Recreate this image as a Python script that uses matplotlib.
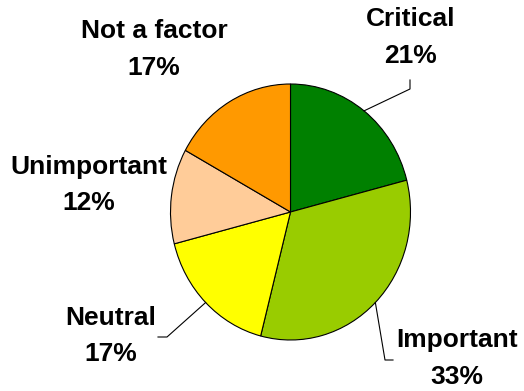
import matplotlib.pyplot as plt
import numpy as np

labels = ['Critical', 'Important', 'Neutral', 'Unimportant', 'Not a factor']
shares = [21, 33, 17, 12, 17]
colors = ['#008000', '#99CC00', '#FFFF00', '#FFCC99', '#FF9900']

W, H = 524, 391
cx, cy = 290.5, 212.0   # pie centre, pixels from top-left
rx, ry = 120.0, 128.0   # pie is slightly taller than wide


def to_data(x, y):
    return (x - cx) / rx, (cy - y) / ry


fig = plt.figure(figsize=(W / 100, H / 100), dpi=100)
ax = fig.add_axes([0, 0, 1, 1])
wedges, _ = ax.pie(shares, colors=colors, startangle=90, counterclock=False,
                   wedgeprops=dict(edgecolor='black', linewidth=0.8))
ax.set_aspect('auto')
ax.set_xlim(-cx / rx, (W - cx) / rx)
ax.set_ylim(-(H - cy) / ry, cy / ry)
ax.axis('off')

# label centres (name line, percent line) and optional leader elbows
label_pos = {
    'Critical': (411, 19, 56),
    'Important': (457, 340, 377),
    'Neutral': (111, 318, 354),
    'Unimportant': (89, 167, 203),
    'Not a factor': (154, 31, 68),
}
leaders = {
    'Critical': [(410, 89), (410, 80)],
    'Important': [(385, 360), (393, 360)],
    'Neutral': [(167, 337), (158, 337)],
}

font = dict(family='Liberation Sans', weight='bold', size=19,
            ha='center', va='center')

for w, name, val in zip(wedges, labels, shares):
    x, y1, y2 = label_pos[name]
    ax.text(*to_data(x, y1), name, **font)
    ax.text(*to_data(x, y2), f'{val}%', **font)
    if name in leaders:
        mid = np.deg2rad((w.theta1 + w.theta2) / 2)
        pts = [(np.cos(mid), np.sin(mid))] + [to_data(*p) for p in leaders[name]]
        xs, ys = zip(*pts)
        ax.plot(xs, ys, color='black', linewidth=0.8)

fig.savefig('out.png', dpi=100)
